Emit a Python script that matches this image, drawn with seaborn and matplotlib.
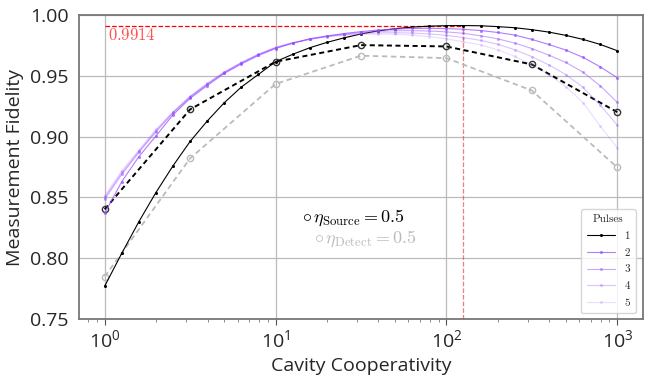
import numpy as np
import pandas as pd
import matplotlib
matplotlib.use("Agg")
import matplotlib.pyplot as plt
import seaborn as sns

# cooperativity grid of the pulse curves, and the coarse grid of the efficiency curves
coop = [1.0, 1.259, 1.585, 1.995, 2.512, 3.162, 3.981, 5.012, 6.310, 7.943,
        10.0, 12.59, 15.85, 19.95, 25.12, 31.62, 39.81, 50.12, 63.10, 79.43,
        100.0, 125.9, 158.5, 199.5, 251.2, 316.2, 398.1, 501.2, 631.0, 794.3, 1000.0]
coop_coarse = [1.0, 3.162, 10.0, 31.62, 100.0, 316.2, 1000.0]

pulse1 = [0.777, 0.804, 0.830, 0.854, 0.876, 0.896, 0.9128, 0.9279, 0.9408, 0.9512,
          0.9616, 0.9677, 0.9731, 0.9775, 0.9812, 0.9845, 0.9870, 0.9888, 0.9901, 0.9909,
          0.9913, 0.9914, 0.9912, 0.9905, 0.9896, 0.9880, 0.9860, 0.9833, 0.9800, 0.9759, 0.9707]
pulse2 = [0.837, 0.863, 0.8835, 0.9005, 0.918, 0.9315, 0.942, 0.952, 0.9598, 0.9668,
          0.9725, 0.9768, 0.9805, 0.9828, 0.9848, 0.9864, 0.9877, 0.9885, 0.9890, 0.9891,
          0.9889, 0.9883, 0.9873, 0.9857, 0.9836, 0.9800, 0.9758, 0.9712, 0.9652, 0.9575, 0.9485]
pulse3 = [0.8485, 0.869, 0.887, 0.904, 0.9195, 0.9325, 0.943, 0.9527, 0.9605, 0.9674,
          0.9730, 0.9770, 0.9801, 0.9826, 0.9843, 0.9857, 0.9866, 0.9871, 0.9872, 0.9869,
          0.9862, 0.9850, 0.9830, 0.9805, 0.9770, 0.9725, 0.9670, 0.9610, 0.9530, 0.9419, 0.9282]
pulse4 = [0.850, 0.8705, 0.888, 0.905, 0.920, 0.933, 0.9435, 0.9531, 0.9609, 0.9677,
          0.9733, 0.9772, 0.9801, 0.9823, 0.9838, 0.9848, 0.9854, 0.9855, 0.9852, 0.9845,
          0.9833, 0.9815, 0.9792, 0.9760, 0.9715, 0.9658, 0.9590, 0.9510, 0.9405, 0.9260, 0.9095]
pulse5 = [0.8514, 0.872, 0.889, 0.906, 0.9205, 0.9334, 0.9438, 0.9534, 0.9611, 0.9679,
          0.9735, 0.9774, 0.9801, 0.9821, 0.9833, 0.9841, 0.9844, 0.9842, 0.9835, 0.9823,
          0.9805, 0.9780, 0.9755, 0.9715, 0.9660, 0.9594, 0.9510, 0.9410, 0.9280, 0.9087, 0.8910]
eta_source = [0.8402, 0.9224, 0.9616, 0.9753, 0.9742, 0.9594, 0.9202]
eta_detect = [0.7848, 0.8821, 0.9433, 0.9666, 0.9646, 0.9380, 0.8747]

best_coop = 125.9
best_fid = 0.9914

pulse_labels = ["1", "2", "3", "4", "5"]
pulse_data = [pulse1, pulse2, pulse3, pulse4, pulse5]

sns.set_style("white")
plt.rcParams["font.family"] = ["Open Sans", "DejaVu Sans"]
plt.rcParams["mathtext.fontset"] = "cm"

fig = plt.figure(figsize=(6.48, 3.77), dpi=100)
ax = fig.add_axes([0.122, 0.154, 0.870, 0.806])

purple = "#9750ff"
alphas = [1.0, 0.75, 0.5, 0.35, 0.2]
for i, (lab, vals) in enumerate(zip(pulse_labels, pulse_data)):
    df = pd.DataFrame({"coop": coop, "fid": vals})
    col = "black" if i == 0 else purple
    sns.lineplot(data=df, x="coop", y="fid", ax=ax, color=col, alpha=alphas[i],
                 lw=0.8, marker="o", markersize=2.2, markeredgewidth=0,
                 label=lab, zorder=4)

src = pd.DataFrame({"coop": coop_coarse, "fid": eta_source})
det = pd.DataFrame({"coop": coop_coarse, "fid": eta_detect})
sns.lineplot(data=src, x="coop", y="fid", ax=ax, color="black", lw=1.4,
             linestyle=(0, (2.6, 1.8)), marker="o", markersize=4.5, markerfacecolor="none",
             markeredgecolor="#333333", markeredgewidth=1.0, zorder=3, legend=False)
sns.lineplot(data=det, x="coop", y="fid", ax=ax, color="#bbbbbb", lw=1.3,
             linestyle=(0, (3, 2)), marker="o", markersize=4.5, markerfacecolor="none",
             markeredgecolor="#bbbbbb", markeredgewidth=1.0, zorder=2, legend=False)

# optimum markers
ax.hlines(best_fid, coop[0], best_coop, colors="red", linestyles="--", lw=0.9, zorder=1)
ax.vlines(best_coop, 0.75, best_fid, colors="#ee4444", linestyles="--", lw=0.9, alpha=0.7, zorder=1)
ax.text(1.05, 0.9825, r"$0.9914$", color="#ff5050", fontsize=12, va="center", ha="left")

ax.set_xscale("log")
ax.set_ylim(0.75, 1.0)
ax.set_yticks([0.75, 0.80, 0.85, 0.90, 0.95, 1.00])
ax.yaxis.set_major_formatter(matplotlib.ticker.FormatStrFormatter("%.2f"))
ax.grid(True, which="major", color="#bbbbbb", lw=0.9)
ax.set_axisbelow(True)
for s in ax.spines.values():
    s.set_color("#777777")
    s.set_linewidth(1.3)
ax.tick_params(axis="both", labelsize=14, length=4, color="#555555")
ax.tick_params(axis="x", which="minor", length=2, color="#777777", bottom=True)
ax.tick_params(axis="x", which="major", bottom=True)
ax.set_xlabel("Cavity Cooperativity", fontsize=14)
ax.set_ylabel("Measurement Fidelity", fontsize=14)

ax.text(0.395, 0.333, r"$\circ\,\eta_{\rm Source} = 0.5$", transform=ax.transAxes,
        fontsize=13, color="black", va="center")
ax.text(0.416, 0.264, r"$\circ\,\eta_{\rm Detect} = 0.5$", transform=ax.transAxes,
        fontsize=13, color="#bbbbbb", va="center")

leg = ax.legend(title="Pulses", loc="lower right", prop={"family": "cmr10", "size": 8},
                title_fontproperties={"family": "cmr10", "size": 8},
                handlelength=2.6, frameon=True, fancybox=True, borderpad=0.5,
                labelspacing=0.62, bbox_to_anchor=(0.997, 0.0))
leg.get_frame().set_edgecolor("#cccccc")

fig.savefig("out.png", dpi=100)
